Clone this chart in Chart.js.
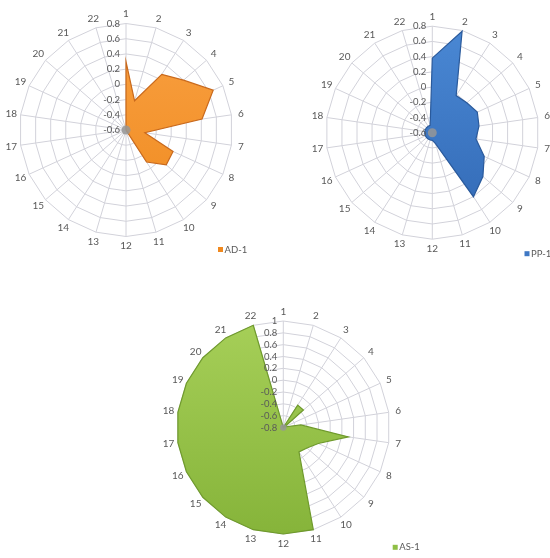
<!DOCTYPE html>
<html>
<head>
<meta charset="utf-8">
<script src="https://cdn.jsdelivr.net/npm/chart.js@4.4.1/dist/chart.umd.min.js"></script>
<style>
  html, body { margin: 0; padding: 0; background: #fff; width: 550px; height: 558px; overflow: hidden; }
  canvas { position: absolute; }
</style>
</head>
<body>
<canvas id="chartAD" width="275" height="270" style="left:0px;top:0px"></canvas>
<canvas id="chartPP" width="275" height="270" style="left:275px;top:0px"></canvas>
<canvas id="chartAS" width="300" height="273" style="left:140px;top:285px"></canvas>
<script>
// Spoke labels shared by all three radars
const categories = ['1','2','3','4','5','6','7','8','9','10','11','12','13','14','15','16','17','18','19','20','21','22'];

// Series values, one per spoke
const adValues = [0.30, -0.20, 0.27, 0.40, 0.66, 0.41, -0.35, 0.08, 0.10, -0.10,
                  -0.6, -0.6, -0.6, -0.6, -0.6, -0.6, -0.6, -0.6, -0.6, -0.6, -0.6, -0.6];
const ppValues = [0.38, 0.79, -0.02, 0.00, 0.05, 0.02, -0.02, 0.15, 0.28, 0.40,
                  -0.45, -0.5, -0.5, -0.5, -0.5, -0.5, -0.5, -0.5, -0.5, -0.5, -0.5, -0.5];
const asValues = [-0.8, -0.8, -0.35, -0.35, -0.78, -0.5, 0.31, -0.15, -0.27, -0.31,
                  1, 1, 1, 1, 1, 1, 1, 1, 1, 1, 1, 1];

// Value axis ranges (tick labels run from min to max in steps)
const adAxis = [-0.6, 0.8];
const ppAxis = [-0.6, 0.8];
const asAxis = [-0.8, 1.0];
const tickStep = 0.2;

const textColor = '#595959';
const gridColor = '#d2d2da';
Chart.defaults.font.family = 'Lato, "Open Sans", sans-serif';

// Put the pole of the radial scale at a chosen spot with a chosen radius,
// and centre each spoke label on a ring just outside the grid.
function placePole(scale, cx, cy, radius, labelRing) {
  scale.xCenter = cx;
  scale.yCenter = cy;
  scale.drawingArea = radius;
  (scale._pointLabelItems || []).forEach((it, i) => {
    const a = scale.getIndexAngle(i) - Math.PI / 2;
    const w = it.right - it.left;
    const h = it.bottom - it.top;
    const mx = cx + Math.cos(a) * labelRing;
    const my = cy + Math.sin(a) * labelRing;
    it.textAlign = 'center';
    it.x = mx;
    it.y = my - h / 2;
    it.left = mx - w / 2; it.right = mx + w / 2;
    it.top = my - h / 2; it.bottom = my + h / 2;
  });
}

// Vertical shading for the filled area
function shade(top, bottom) {
  return (ctx) => {
    const s = ctx.chart.scales.r;
    if (!s || !s.drawingArea) return bottom;
    const g = ctx.chart.ctx.createLinearGradient(0, s.yCenter - s.drawingArea, 0, s.yCenter + s.drawingArea);
    g.addColorStop(0, top);
    g.addColorStop(1, bottom);
    return g;
  };
}

// Tick text: 1, 0.8 ... 0 ... -0.8
const tickText = (v) => String(Math.round(v * 10) / 10);

// Hub at the pole, value labels beside the first spoke, and a small legend
const radarDecor = {
  id: 'radarDecor',
  afterDatasetsDraw(chart, args, opts) {
    const s = chart.scales.r;
    const c = chart.ctx;
    c.save();
    c.beginPath();
    c.arc(s.xCenter, s.yCenter, opts.hub, 0, Math.PI * 2);
    c.fillStyle = 'rgba(150,150,150,0.85)';
    c.fill();

    c.font = opts.tickFont + 'px Lato, "Open Sans", sans-serif';
    c.fillStyle = textColor;
    c.textAlign = 'right';
    c.textBaseline = 'middle';
    s.ticks.forEach(t => {
      const d = s.getDistanceFromCenterForValue(t.value);
      c.fillText(t.label, s.xCenter - opts.tickGap, s.yCenter - d);
    });

    const ds = chart.data.datasets[0];
    const [lx, ly] = opts.legendAt;
    c.fillStyle = opts.marker;
    c.fillRect(lx, ly - 2.5, 5, 5);
    c.fillStyle = textColor;
    c.textAlign = 'left';
    c.font = '9.5px Lato, "Open Sans", sans-serif';
    c.fillText(ds.label, lx + 6.5, ly);
    c.restore();
  }
};

function makeRadar(id, label, values, axis, look) {
  return new Chart(document.getElementById(id), {
    type: 'radar',
    data: {
      labels: categories,
      datasets: [{
        label: label,
        data: values,
        fill: 'start',
        backgroundColor: shade(look.top, look.bottom),
        borderColor: look.edge,
        borderWidth: 1.2,
        pointRadius: 0,
        tension: 0
      }]
    },
    plugins: [radarDecor],
    options: {
      responsive: false,
      animation: false,
      devicePixelRatio: 1,
      layout: { padding: 0 },
      plugins: {
        legend: { display: false },
        tooltip: { enabled: false },
        radarDecor: { hub: look.hub, tickGap: 6, tickFont: 9.5, legendAt: look.legendAt, marker: look.marker }
      },
      scales: {
        r: {
          min: axis[0],
          max: axis[1],
          startAngle: 0,
          ticks: { stepSize: tickStep, display: false, callback: tickText },
          grid: { color: gridColor, lineWidth: 1 },
          angleLines: { color: gridColor, lineWidth: 1 },
          pointLabels: { color: textColor, font: { size: 10 }, padding: 5 },
          afterFit: (s) => placePole(s, look.cx, look.cy, look.radius, look.ring)
        }
      }
    }
  });
}

makeRadar('chartAD', 'AD-1', adValues, adAxis, {
  cx: 126, cy: 130, radius: 106.5, ring: 116,
  top: '#f9a042', bottom: '#ef8a1e', edge: '#c9691c', marker: '#f0891f',
  hub: 4.5, legendAt: [218, 249.5]
});
makeRadar('chartPP', 'PP-1', ppValues, ppAxis, {
  cx: 157.3, cy: 132.7, radius: 106.5, ring: 116,
  top: '#4a88d4', bottom: '#3168b4', edge: '#2a5a9c', marker: '#3f78c4',
  hub: 4.5, legendAt: [249.5, 253.7]
});
makeRadar('chartAS', 'AS-1', asValues, asAxis, {
  cx: 143.3, cy: 142.5, radius: 106.5, ring: 116,
  top: '#a6cf58', bottom: '#86b43a', edge: '#6f9a2c', marker: '#8fbf45',
  hub: 3.2, legendAt: [252.7, 262.3]
});
</script>
</body>
</html>
